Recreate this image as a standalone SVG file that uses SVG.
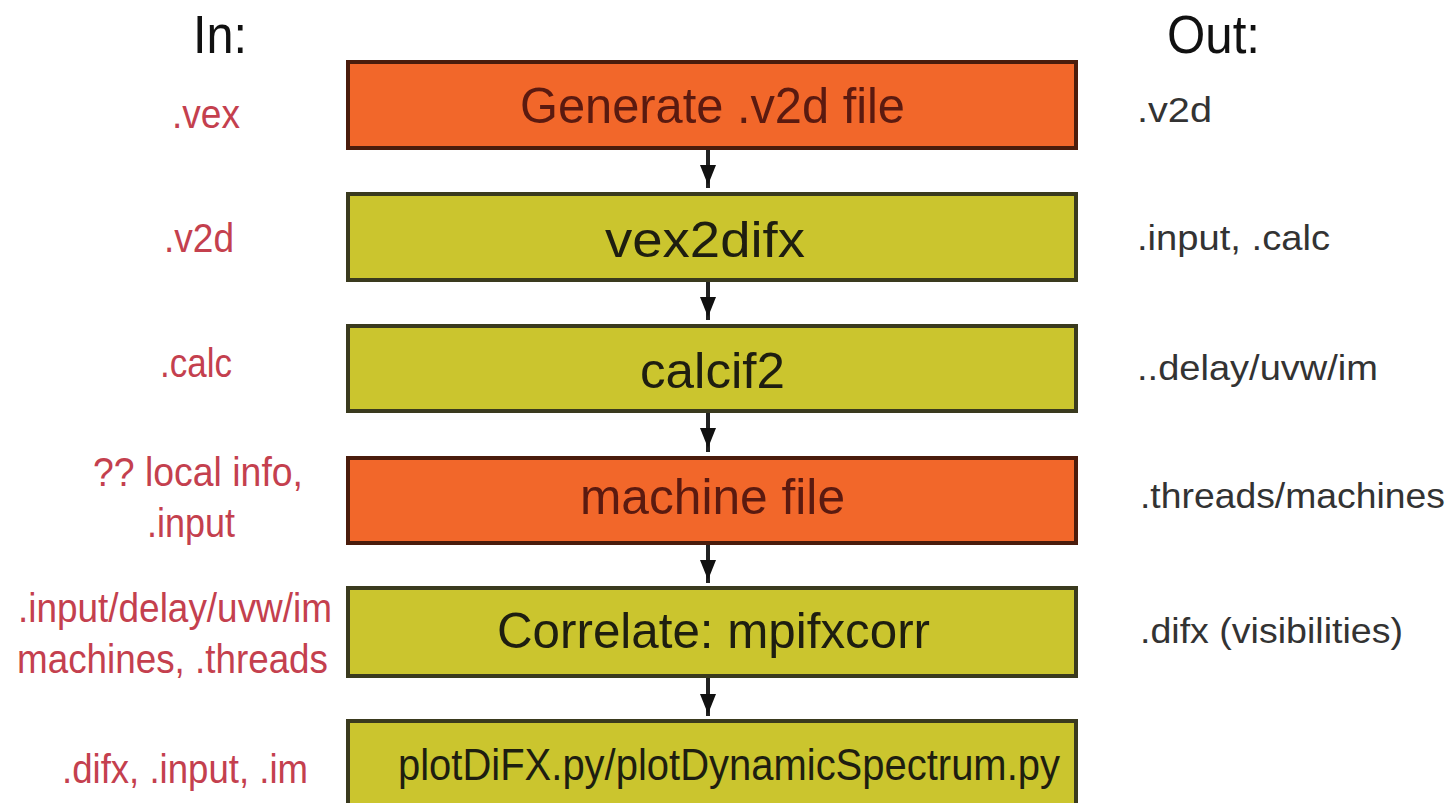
<svg xmlns="http://www.w3.org/2000/svg" width="1449" height="803" viewBox="0 0 1449 803">
<defs>
<style>
text{font-family:"Liberation Sans",Arial,sans-serif}
.o{fill:#f2672a;stroke:#4a1c0c;stroke-width:4}
.y{fill:#cbc52e;stroke:#3a3a1e;stroke-width:4}
.bt{font-size:50px}
.ot{fill:#5a1a10}
.yt{fill:#1e1e10}
.in{font-size:41px;fill:#c4404e}
.out{font-size:35px;fill:#333}
.hd{font-size:54px;fill:#111}
.c{stroke:#222;stroke-width:4;fill:none}
.ah{fill:#111}
</style>
</defs>
<rect width="1449" height="803" fill="#fff"/>
<text class="hd" x="193" y="53" textLength="54" lengthAdjust="spacingAndGlyphs">In:</text>
<text class="hd" x="1167" y="53" textLength="93" lengthAdjust="spacingAndGlyphs">Out:</text>
<g id="connectors">
<path class="c" d="M708,149 V188"/>
<path class="ah" d="M700,165 L716,165 L708,185 z"/>
<path class="c" d="M708,281 V320"/>
<path class="ah" d="M700,297 L716,297 L708,317 z"/>
<path class="c" d="M708,412 V452"/>
<path class="ah" d="M700,428 L716,428 L708,448 z"/>
<path class="c" d="M708,544 V583"/>
<path class="ah" d="M700,560 L716,560 L708,580 z"/>
<path class="c" d="M708,677 V716"/>
<path class="ah" d="M700,694 L716,694 L708,714 z"/>
</g>
<g id="n1"><rect class="o" x="348" y="62" width="728" height="86"/><text class="bt ot" x="520" y="123" textLength="385" lengthAdjust="spacingAndGlyphs">Generate .v2d file</text></g>
<g id="n2"><rect class="y" x="348" y="194" width="728" height="86"/><text class="bt yt" x="605" y="257" textLength="200" lengthAdjust="spacingAndGlyphs">vex2difx</text></g>
<g id="n3"><rect class="y" x="348" y="326" width="728" height="85"/><text class="bt yt" x="640" y="388" textLength="145" lengthAdjust="spacingAndGlyphs">calcif2</text></g>
<g id="n4"><rect class="o" x="348" y="458" width="728" height="85"/><text class="bt ot" x="580" y="514" textLength="265" lengthAdjust="spacingAndGlyphs">machine file</text></g>
<g id="n5"><rect class="y" x="348" y="588" width="728" height="88"/><text class="bt yt" x="497" y="648" textLength="433" lengthAdjust="spacingAndGlyphs">Correlate: mpifxcorr</text></g>
<g id="n6"><rect class="y" x="348" y="721" width="728" height="90"/><text class="yt" x="398" y="780" font-size="44" textLength="662" lengthAdjust="spacingAndGlyphs">plotDiFX.py/plotDynamicSpectrum.py</text></g>
<g id="labels-in">
<text class="in" x="172" y="128" textLength="68" lengthAdjust="spacingAndGlyphs">.vex</text>
<text class="in" x="164" y="252" textLength="70" lengthAdjust="spacingAndGlyphs">.v2d</text>
<text class="in" x="160" y="377" textLength="72" lengthAdjust="spacingAndGlyphs">.calc</text>
<text class="in" x="93" y="486" textLength="210" lengthAdjust="spacingAndGlyphs">?? local info,</text>
<text class="in" x="147" y="537" textLength="88" lengthAdjust="spacingAndGlyphs">.input</text>
<text class="in" x="18" y="622" textLength="314" lengthAdjust="spacingAndGlyphs">.input/delay/uvw/im</text>
<text class="in" x="17" y="673" textLength="311" lengthAdjust="spacingAndGlyphs">machines, .threads</text>
<text class="in" x="62" y="783" textLength="246" lengthAdjust="spacingAndGlyphs">.difx, .input, .im</text>
</g>
<g id="labels-out">
<text class="out" x="1137" y="122" textLength="75" lengthAdjust="spacingAndGlyphs">.v2d</text>
<text class="out" x="1137" y="250" textLength="193" lengthAdjust="spacingAndGlyphs">.input, .calc</text>
<text class="out" x="1137" y="380" textLength="241" lengthAdjust="spacingAndGlyphs">..delay/uvw/im</text>
<text class="out" x="1140" y="508" textLength="305" lengthAdjust="spacingAndGlyphs">.threads/machines</text>
<text class="out" x="1140" y="643" textLength="263" lengthAdjust="spacingAndGlyphs">.difx (visibilities)</text>
</g>
</svg>
